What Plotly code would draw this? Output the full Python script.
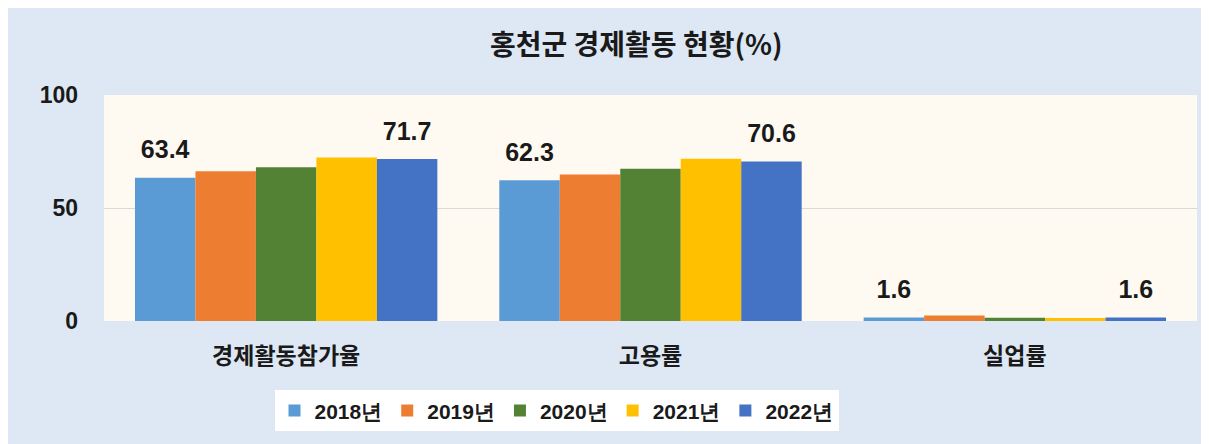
import plotly.graph_objects as go

categories = ["경제활동참가율", "고용률", "실업률"]
years = ["2018년", "2019년", "2020년", "2021년", "2022년"]
v2018 = [63.4, 62.3, 1.6]
v2019 = [66.3, 64.8, 2.4]
v2020 = [68.0, 67.4, 1.4]
v2021 = [72.3, 71.8, 1.3]
v2022 = [71.7, 70.6, 1.6]
series = [v2018, v2019, v2020, v2021, v2022]
colors = ["#5b9bd5", "#ed7d31", "#548235", "#ffc000", "#4472c4"]
show_labels = [True, False, False, False, True]
y_ticks = [0, 50, 100]

FONT = "Noto Sans CJK KR"
NUMFONT = "Liberation Sans, Arial"

fig = go.Figure()
for name, vals, col, lab in zip(years, series, colors, show_labels):
    fig.add_trace(go.Bar(
        x=categories, y=vals, name=name, marker_color=col,
        marker_line_width=0,
        text=[f"<span style='font-size:25px'>{v:.1f}</span><br> " for v in vals] if lab else None,
        textposition="outside", cliponaxis=False,
        textfont=dict(size=11, color="#1a1a1a", family=NUMFONT, weight="bold"),
    ))

fig.update_layout(
    width=1209, height=444,
    margin=dict(l=96, r=20, t=87, b=131),
    paper_bgcolor="#dee8f4",
    plot_bgcolor="#fffaf1",
    barmode="group", bargap=0.17, bargroupgap=0,
    title=dict(text="홍천군 경제활동 현황(%)", x=0.487, xref="paper", xanchor="center",
               y=0.917, yref="container", yanchor="middle",
               font=dict(family=FONT, size=28, color="#1a1a1a", weight="bold")),
    font=dict(family=FONT, color="#1a1a1a"),
    showlegend=True,
    legend=dict(orientation="h", x=0.414, xanchor="center", y=-0.398, yanchor="middle",
                bgcolor="#ffffff", font=dict(size=21, family=NUMFONT, color="#1a1a1a", weight="bold"),
                itemwidth=30, traceorder="normal", tracegroupgap=0),
    xaxis=dict(showgrid=False, showline=False, ticks="", ticklabelstandoff=19,
               tickfont=dict(size=23, family=FONT, color="#1a1a1a", weight="bold")),
    yaxis=dict(range=[0, 100], tickvals=y_ticks, showgrid=True, gridcolor="#d9d9d9",
               gridwidth=1, zeroline=False, showline=False,
               ticklabelstandoff=25,
               tickfont=dict(size=23, family=NUMFONT, color="#1a1a1a", weight="bold")),
)
fig.write_html("out.html")
